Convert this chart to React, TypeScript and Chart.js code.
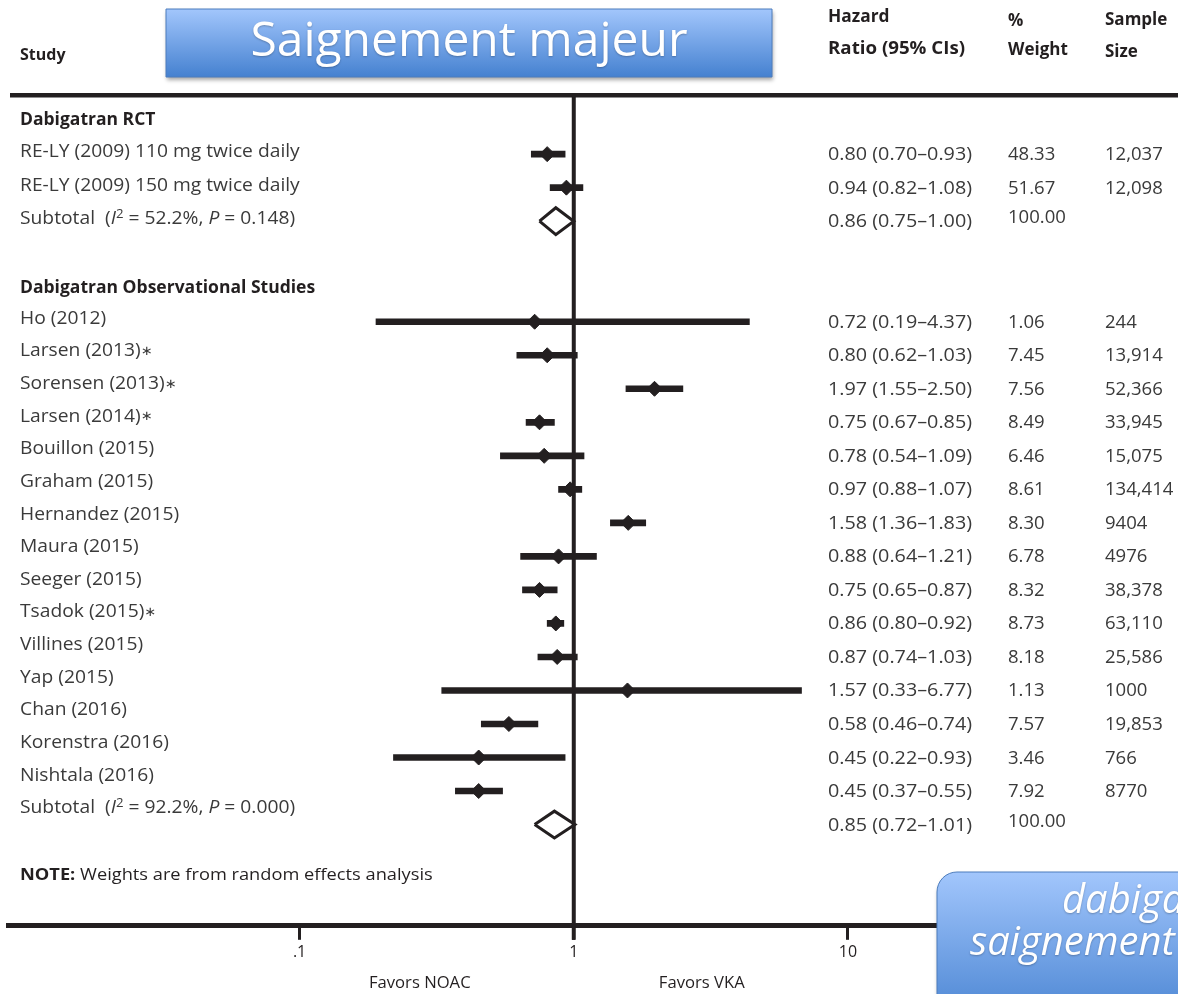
import React, { useEffect, useRef } from 'react';
import { Chart, registerables } from 'chart.js';

Chart.register(...registerables);

// ---------- data ----------
const GROUP_HEADERS = ['Dabigatran RCT', 'Dabigatran Observational Studies'];
const GROUP_ROWS = [-1, 4];

const STUDY_LABELS = [
  'RE-LY (2009) 110 mg twice daily',
  'RE-LY (2009) 150 mg twice daily',
  'Ho (2012)',
  'Larsen (2013)∗',
  'Sorensen (2013)∗',
  'Larsen (2014)∗',
  'Bouillon (2015)',
  'Graham (2015)',
  'Hernandez (2015)',
  'Maura (2015)',
  'Seeger (2015)',
  'Tsadok (2015)∗',
  'Villines (2015)',
  'Yap (2015)',
  'Chan (2016)',
  'Korenstra (2016)',
  'Nishtala (2016)',
];
const STUDY_ROWS = [0, 1, 5, 6, 7, 8, 9, 10, 11, 12, 13, 14, 15, 16, 17, 18, 19];
const HR = [0.8, 0.94, 0.72, 0.8, 1.97, 0.75, 0.78, 0.97, 1.58, 0.88, 0.75, 0.86, 0.87, 1.57, 0.58, 0.45, 0.45];
const CI_LOW = [0.7, 0.82, 0.19, 0.62, 1.55, 0.67, 0.54, 0.88, 1.36, 0.64, 0.65, 0.8, 0.74, 0.33, 0.46, 0.22, 0.37];
const CI_HIGH = [0.93, 1.08, 4.37, 1.03, 2.5, 0.85, 1.09, 1.07, 1.83, 1.21, 0.87, 0.92, 1.03, 6.77, 0.74, 0.93, 0.55];
const WEIGHTS = ['48.33', '51.67', '1.06', '7.45', '7.56', '8.49', '6.46', '8.61', '8.30', '6.78', '8.32', '8.73', '8.18', '1.13', '7.57', '3.46', '7.92'];
const SAMPLE_SIZES = ['12,037', '12,098', '244', '13,914', '52,366', '33,945', '15,075', '134,414', '9404', '4976', '38,378', '63,110', '25,586', '1000', '19,853', '766', '8770'];

const SUBTOTAL_ROWS = [2, 20];
const SUBTOTAL_HR = [0.86, 0.85];
const SUBTOTAL_LOW = [0.75, 0.72];
const SUBTOTAL_HIGH = [1.0, 1.01];
const SUBTOTAL_I2 = ['52.2%', '92.2%'];
const SUBTOTAL_P = ['0.148', '0.000'];
const SUBTOTAL_WEIGHTS = ['100.00', '100.00'];

const TICK_VALUES = [0.1, 1, 10];
const TICK_LABELS = ['.1', '1', '10'];

// ---------- layout constants ----------
const W = 1178;
const H = 994;
const INK = '#231f20';
const TEXT = '#3a3a3a';
const FONT = '"Open Sans", "DejaVu Sans", sans-serif';
const X_MIN = 0.00868;
const X_MAX = 148.8;
const Y_MIN = -1.764;
const Y_MAX = 23.02;
const DIAMOND_HALF = 0.4;

function drawText(
  ctx: CanvasRenderingContext2D,
  text: string,
  x: number,
  y: number,
  font: string,
  color: string,
  sx = 1,
  align: CanvasTextAlign = 'left'
) {
  ctx.save();
  ctx.font = font;
  ctx.fillStyle = color;
  ctx.textAlign = align;
  ctx.textBaseline = 'middle';
  ctx.translate(x, y);
  ctx.scale(sx, 1);
  ctx.fillText(text, 0, 0);
  ctx.restore();
}

function drawRich(
  ctx: CanvasRenderingContext2D,
  parts: { t: string; font: string; dy?: number }[],
  x: number,
  y: number,
  color: string,
  sx = 1
) {
  let cx = x;
  for (const p of parts) {
    ctx.save();
    ctx.font = p.font;
    ctx.fillStyle = color;
    ctx.textAlign = 'left';
    ctx.textBaseline = 'middle';
    ctx.translate(cx, y + (p.dy || 0));
    ctx.scale(sx, 1);
    ctx.fillText(p.t, 0, 0);
    const w = ctx.measureText(p.t).width;
    ctx.restore();
    cx += w * sx;
  }
}

function roundRectPath(ctx: CanvasRenderingContext2D, x: number, y: number, w: number, h: number, r: number) {
  ctx.beginPath();
  ctx.moveTo(x + r, y);
  ctx.lineTo(x + w - r, y);
  ctx.arcTo(x + w, y, x + w, y + r, r);
  ctx.lineTo(x + w, y + h - r);
  ctx.arcTo(x + w, y + h, x + w - r, y + h, r);
  ctx.lineTo(x + r, y + h);
  ctx.arcTo(x, y + h, x, y + h - r, r);
  ctx.lineTo(x, y + r);
  ctx.arcTo(x, y, x + r, y, r);
  ctx.closePath();
}

function drawBlueBox(ctx: CanvasRenderingContext2D, x: number, y: number, w: number, h: number, r: number, gradEnd: number) {
  ctx.save();
  const g = ctx.createLinearGradient(0, y, 0, gradEnd);
  g.addColorStop(0, '#a2c6fc');
  g.addColorStop(1, '#4581d0');
  ctx.shadowColor = 'rgba(0,0,0,0.35)';
  ctx.shadowBlur = 4;
  ctx.shadowOffsetX = 1;
  ctx.shadowOffsetY = 3;
  roundRectPath(ctx, x, y, w, h, r);
  ctx.fillStyle = g;
  ctx.fill();
  ctx.shadowColor = 'transparent';
  ctx.strokeStyle = '#4d7dbd';
  ctx.lineWidth = 1;
  ctx.stroke();
  ctx.restore();
}

const forestDecor = {
  id: 'forestDecor',
  beforeDatasetsDraw(chart: any) {
    const { ctx, chartArea, scales } = chart;
    const x = scales.x;
    ctx.save();
    ctx.fillStyle = INK;
    // header rule
    ctx.fillRect(10, chartArea.top - 2, W - 10, 4.5);
    // line of no effect
    const x1 = x.getPixelForValue(1);
    ctx.fillRect(x1 - 2, chartArea.top, 4, chartArea.bottom + 14 - chartArea.top);
    ctx.restore();
  },
  afterDraw(chart: any) {
    const { ctx, scales } = chart;
    const y = scales.y;
    const x = scales.x;
    const pix = (r: number) => y.getPixelForValue(r);
    const labelY = (r: number) => pix(r) - 2 - 0.9 * Math.max(0, r - 4);

    const reg = `17.5px ${FONT}`;
    const bold = `bold 17px ${FONT}`;
    const LSX = 1.1;
    const HSX = 1.13;
    const RSX = 1.06;

    // column headers
    drawText(ctx, 'Study', 20, 55, `bold 16px ${FONT}`, INK);
    drawText(ctx, 'Hazard', 828, 17, bold, INK, 1.02);
    drawText(ctx, 'Ratio (95% CIs)', 828, 49, bold, INK, 1.1);
    drawText(ctx, '%', 1008, 21, bold, INK, 1.0);
    drawText(ctx, 'Weight', 1008, 50, bold, INK, 1.0);
    drawText(ctx, 'Sample', 1105, 20, bold, INK, 1.0);
    drawText(ctx, 'Size', 1105, 52, bold, INK, 1.0);

    // group headers
    GROUP_HEADERS.forEach((g, i) => {
      drawText(ctx, g, 20, labelY(GROUP_ROWS[i]) + 2, `bold 17px ${FONT}`, INK, 1.03);
    });

    // studies
    STUDY_LABELS.forEach((s, i) => {
      const r = STUDY_ROWS[i];
      if (s.endsWith('∗')) {
        drawRich(
          ctx,
          [
            { t: s.slice(0, -1), font: reg },
            { t: '∗', font: `13px ${FONT}` },
          ],
          20,
          labelY(r),
          TEXT,
          LSX
        );
      } else {
        drawText(ctx, s, 20, labelY(r), reg, TEXT, LSX);
      }
      const hrTxt = `${HR[i].toFixed(2)} (${CI_LOW[i].toFixed(2)}–${CI_HIGH[i].toFixed(2)})`;
      drawText(ctx, hrTxt, 828, pix(r) + 1, reg, TEXT, HSX);
      drawText(ctx, WEIGHTS[i], 1008, pix(r) + 1, reg, TEXT, RSX);
      drawText(ctx, SAMPLE_SIZES[i], 1105, pix(r) + 1, reg, TEXT, RSX);
    });

    // subtotals
    SUBTOTAL_ROWS.forEach((r, i) => {
      drawRich(
        ctx,
        [
          { t: 'Subtotal  (', font: reg },
          { t: 'I', font: `italic ${reg}` },
          { t: '2', font: `12px ${FONT}`, dy: -5 },
          { t: ` = ${SUBTOTAL_I2[i]}, `, font: reg },
          { t: 'P', font: `italic ${reg}` },
          { t: ` = ${SUBTOTAL_P[i]})`, font: reg },
        ],
        20,
        labelY(r),
        TEXT,
        LSX
      );
      const hrTxt = `${SUBTOTAL_HR[i].toFixed(2)} (${SUBTOTAL_LOW[i].toFixed(2)}–${SUBTOTAL_HIGH[i].toFixed(2)})`;
      drawText(ctx, hrTxt, 828, pix(r) + 1, reg, TEXT, HSX);
      drawText(ctx, SUBTOTAL_WEIGHTS[i], 1008, pix(r) - 3, reg, TEXT, RSX);
    });

    // note
    drawRich(
      ctx,
      [
        { t: 'NOTE:', font: `bold 16px ${FONT}` },
        { t: ' Weights are from random effects analysis', font: `16px ${FONT}` },
      ],
      20,
      875,
      INK,
      1.14
    );

    // favors labels
    const x1 = x.getPixelForValue(1);
    drawText(ctx, 'Favors NOAC', x1 - 154, 983, `16px ${FONT}`, INK, 1.04, 'center');
    drawText(ctx, 'Favors VKA', x1 + 128, 983, `16px ${FONT}`, INK, 1.04, 'center');

    // title box
    drawBlueBox(ctx, 166, 9, 606, 68, 0, 77);
    ctx.save();
    ctx.shadowColor = 'rgba(0,0,0,0.25)';
    ctx.shadowBlur = 2;
    ctx.shadowOffsetY = 1;
    drawText(ctx, 'Saignement majeur', 469, 42, `48px ${FONT}`, '#ffffff', 1, 'center');
    ctx.restore();

    // bottom-right box
    drawBlueBox(ctx, 937, 872, 320, 170, 20, 1030);
    ctx.save();
    ctx.shadowColor = 'rgba(0,0,0,0.25)';
    ctx.shadowBlur = 2;
    ctx.shadowOffsetY = 1;
    drawText(ctx, 'dabigatran', 1062, 902, `italic 40px ${FONT}`, '#ffffff');
    drawText(ctx, 'saignement', 970, 944, `italic 40px ${FONT}`, '#ffffff');
    ctx.restore();
  },
};

export default function App() {
  const ref = useRef<HTMLCanvasElement>(null);
  useEffect(() => {
    const canvas = ref.current!;
    const diamondSets = SUBTOTAL_ROWS.map((r, i) => ({
      type: 'line' as const,
      showLine: true,
      data: [
        { x: SUBTOTAL_LOW[i], y: r },
        { x: SUBTOTAL_HR[i], y: r - DIAMOND_HALF },
        { x: SUBTOTAL_HIGH[i], y: r },
        { x: SUBTOTAL_HR[i], y: r + DIAMOND_HALF },
        { x: SUBTOTAL_LOW[i], y: r },
      ],
      borderColor: INK,
      backgroundColor: 'rgba(255,255,255,1)',
      borderWidth: 3,
      pointRadius: 0,
      fill: false,
      tension: 0,
      borderJoinStyle: 'miter' as const,
      order: 1,
    }));
    const chart = new Chart(canvas, {
      type: 'scatter',
      data: {
        datasets: [
          {
            type: 'bar',
            indexAxis: 'y',
            data: STUDY_ROWS.map((r, i) => ({ x: [CI_LOW[i], CI_HIGH[i]], y: r })) as any,
            backgroundColor: INK,
            borderWidth: 0,
            barThickness: 6,
            order: 2,
          } as any,
          {
            type: 'scatter',
            data: STUDY_ROWS.map((r, i) => ({ x: HR[i], y: r })),
            pointStyle: 'rectRot',
            pointRadius: 7.5,
            backgroundColor: INK,
            borderColor: INK,
            borderWidth: 1,
            order: 0,
          } as any,
          ...(diamondSets as any[]),
        ],
      },
      options: {
        animation: false,
        responsive: false,
        devicePixelRatio: 1,
        events: [],
        layout: { padding: { top: 95, left: 5, right: 0, bottom: 29 } },
        plugins: { legend: { display: false }, tooltip: { enabled: false } },
        scales: {
          x: {
            type: 'logarithmic',
            min: X_MIN,
            max: X_MAX,
            position: 'bottom',
            offset: false,
            afterBuildTicks: (s: any) => {
              s.ticks = TICK_VALUES.map((v) => ({ value: v }));
            },
            ticks: {
              autoSkip: false,
              maxRotation: 0,
              padding: 3,
              color: INK,
              font: { family: 'Open Sans', size: 16 },
              callback: (v: any) => {
                const k = TICK_VALUES.findIndex((t) => Math.abs(t - Number(v)) < 1e-9);
                return k >= 0 ? TICK_LABELS[k] : '';
              },
            },
            grid: {
              drawOnChartArea: false,
              drawTicks: true,
              tickLength: 14,
              tickWidth: 3,
              tickColor: INK,
              color: INK,
            },
            border: { display: true, width: 5, color: INK },
          } as any,
          y: {
            type: 'linear',
            min: Y_MIN,
            max: Y_MAX,
            reverse: true,
            display: false,
            offset: false,
          } as any,
        },
      },
      plugins: [forestDecor],
    });
    return () => chart.destroy();
  }, []);
  return (
    <div style={{ position: 'absolute', left: 0, top: 0, width: W, height: H, background: '#fff' }}>
      <canvas ref={ref} width={W} height={H} style={{ display: 'block', width: W, height: H }} />
    </div>
  );
}
